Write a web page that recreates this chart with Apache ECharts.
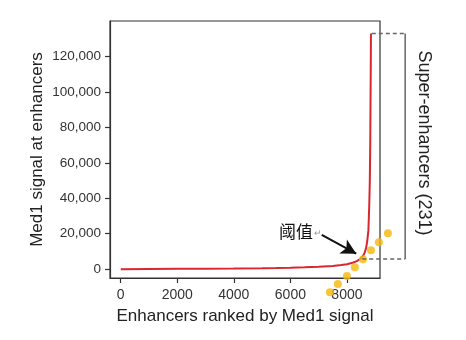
<!DOCTYPE html>
<html><head><meta charset="utf-8">
<script src="https://cdn.jsdelivr.net/npm/echarts@6/dist/echarts.min.js"></script>
<style>html,body{margin:0;padding:0;background:#fff}#c{width:466px;height:340px}</style>
</head><body><div id="c"></div>
<script>
// ranked enhancer curve (rank, Med1 signal)
var curveRank = [0,1000,2000,3000,4000,5000,5500,6000,6500,7000,7500,7800,8000,8200,8350,8450,8550,8620,8680,8720,8760,8790,8810,8825,8835,8845,8850];
var curveSignal = [0,80,160,250,350,500,600,750,1000,1300,1800,2300,2800,3600,4500,5500,7000,9000,12000,16000,22000,36000,50000,70000,95000,118000,133000];
// yellow dots
var dotRank = [7400,7680,8000,8280,8570,8850,9130,9450];
var dotSignal = [-13000,-8400,-3900,1100,5600,10700,15200,20300];
// tick labels
var xTicks = [0,2000,4000,6000,8000];
var yTicks = [0,20000,40000,60000,80000,100000,120000];
// bracket & threshold annotation (data space)
var bracketX = 10060, bracketTop = 133000, threshold = 5700, thresholdRank = 8540, topRank = 8880;
var arrowFrom = [7110, 19300], arrowTo = [8330, 8700];

var chart = echarts.init(document.getElementById('c'), null, {renderer:'canvas'});
function pairs(a,b){return a.map(function(v,i){return [v,b[i]];});}
var font = 'Liberation Sans, Arial, sans-serif';
chart.setOption({
  animation:false,
  grid:{left:110,right:86,top:21,bottom:62,show:true,borderColor:'#333',borderWidth:1.2,backgroundColor:'transparent'},
  xAxis:{type:'value',min:-380,max:9170,
    axisLine:{show:true,onZero:false,lineStyle:{color:'#333',width:1.2}},
    axisTick:{show:true,customValues:xTicks,length:5,lineStyle:{color:'#333',width:1.2}},
    axisLabel:{customValues:xTicks,margin:10,color:'#333',fontSize:14,fontFamily:font,
      formatter:function(v){return String(v);}},
    splitLine:{show:false},
    name:'Enhancers ranked by Med1 signal',nameLocation:'middle',nameGap:30,nameMoveOverlap:false,
    nameTextStyle:{color:'#222',fontSize:17,fontFamily:font}},
  yAxis:{type:'value',min:-5000,max:140000,
    axisLine:{show:true,onZero:false,lineStyle:{color:'#333',width:1.2}},
    axisTick:{show:true,customValues:yTicks,length:5,lineStyle:{color:'#333',width:1.2}},
    axisLabel:{customValues:yTicks,margin:9,color:'#333',fontSize:13.5,fontFamily:font,
      formatter:function(v){return v.toLocaleString('en-US');}},
    splitLine:{show:false},
    name:'Med1 signal at enhancers',nameLocation:'middle',nameGap:64,nameMoveOverlap:false,
    nameTextStyle:{color:'#222',fontSize:17,fontFamily:font}},
  series:[
    {type:'line',data:pairs(curveRank,curveSignal),showSymbol:false,symbol:'none',
      lineStyle:{color:'#d7282f',width:2},z:3,
      markLine:{silent:true,symbol:['none','arrow'],symbolSize:[12,15],
        lineStyle:{color:'#111',width:2,type:'solid'},label:{show:false},
        data:[[{coord:arrowFrom},{coord:arrowTo}]]}},
    {type:'scatter',data:pairs(dotRank,dotSignal),symbolSize:8,clip:false,
      itemStyle:{color:'#f6b80d'},z:4}
  ]
});
var pTop0 = chart.convertToPixel({gridIndex:0},[topRank,bracketTop]);
var pTop1 = chart.convertToPixel({gridIndex:0},[bracketX,bracketTop]);
var pBot1 = chart.convertToPixel({gridIndex:0},[bracketX,threshold]);
var pBot0 = chart.convertToPixel({gridIndex:0},[thresholdRank,threshold]);
var gray = {stroke:'#666',lineWidth:1.5};
chart.setOption({graphic:[
  {type:'line',shape:{x1:pTop0[0],y1:pTop0[1],x2:pTop1[0],y2:pTop1[1]},style:{stroke:'#666',lineWidth:1.5,lineDash:[4,3]},z:10},
  {type:'line',shape:{x1:pTop1[0],y1:pTop1[1],x2:pBot1[0],y2:pBot1[1]},style:gray,z:10},
  {type:'line',shape:{x1:pBot0[0],y1:pBot0[1],x2:pBot1[0],y2:pBot1[1]},style:{stroke:'#666',lineWidth:1.5,lineDash:[4,3]},z:10},
  {type:'text',left:279,top:223,style:{text:'阈值',fill:'#111',font:'17px "Noto Sans CJK SC", sans-serif'}},
  {type:'text',left:314,top:229,style:{text:'↵',fill:'#999',font:'9px sans-serif'}},
  {type:'text',x:424,y:143,rotation:-Math.PI/2,
    style:{text:'Super-enhancers (231)',fill:'#222',font:'18px Liberation Sans, Arial, sans-serif',align:'center',verticalAlign:'middle'}}
]});
</script></body></html>
